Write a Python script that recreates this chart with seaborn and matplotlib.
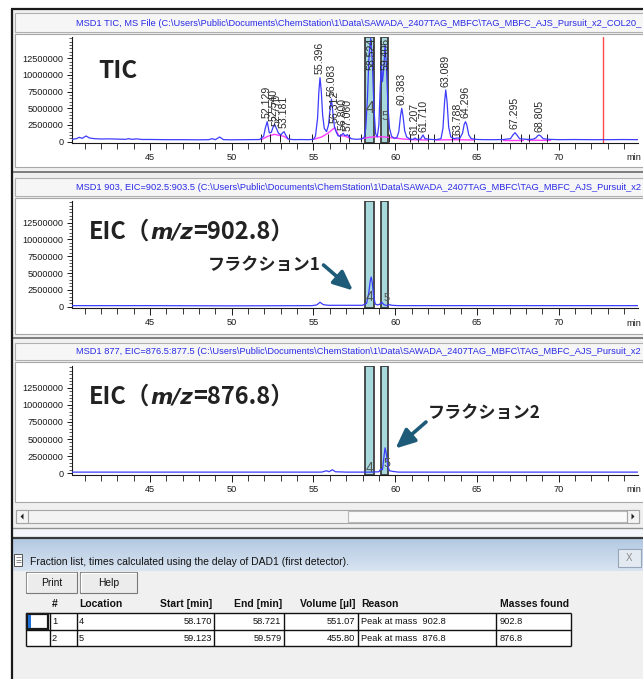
import numpy as np
import pandas as pd
import matplotlib
matplotlib.use("Agg")
import matplotlib.pyplot as plt
import seaborn as sns
from matplotlib.patches import Rectangle, Polygon
from matplotlib.ticker import MultipleLocator, FuncFormatter, FixedLocator
from matplotlib.colors import LinearSegmentedColormap
import matplotlib.transforms as mtrans

# ---------------- data ----------------
frac_no = [1, 2]
frac_location = [4, 5]
frac_start = [58.170, 59.123]
frac_end = [58.721, 59.579]
frac_volume = [551.07, 455.80]
frac_reason = ["Peak at mass  902.8", "Peak at mass  876.8"]
frac_masses = [902.8, 876.8]

table_headers = ["#", "Location", "Start [min]", "End [min]", "Volume [µl]", "Reason", "Masses found"]

x_major_ticks = [45, 50, 55, 60, 65, 70]
y_major_ticks = [0, 2500000, 5000000, 7500000, 10000000, 12500000]

panel_titles = [
    "MSD1 TIC, MS File (C:\\Users\\Public\\Documents\\ChemStation\\1\\Data\\SAWADA_2407TAG_MBFC\\TAG_MBFC_AJS_Pursuit_x2_COL20_",
    "MSD1 903, EIC=902.5:903.5 (C:\\Users\\Public\\Documents\\ChemStation\\1\\Data\\SAWADA_2407TAG_MBFC\\TAG_MBFC_AJS_Pursuit_x2",
    "MSD1 877, EIC=876.5:877.5 (C:\\Users\\Public\\Documents\\ChemStation\\1\\Data\\SAWADA_2407TAG_MBFC\\TAG_MBFC_AJS_Pursuit_x2",
]

# TIC trace (minutes, intensity in millions of counts)
tic_time = [40.23, 40.5, 40.67, 40.85, 41.09, 41.3, 41.6, 42.0, 42.5, 43.0, 43.5, 43.7, 43.9, 44.2, 44.5, 45.0, 46.0, 47.0, 48.0, 48.6, 48.8, 49.0, 49.26, 49.5, 50.0, 51.0, 51.7,
            51.95, 52.05, 52.17, 52.3, 52.42, 52.55, 52.62, 52.75, 52.85, 53.0, 53.1, 53.2, 53.3, 53.45, 53.8, 54.2, 54.7,
            55.0, 55.12, 55.25, 55.33, 55.40, 55.48, 55.56, 55.66, 55.8, 55.92, 56.02, 56.10, 56.18, 56.28, 56.38, 56.5, 56.62, 56.75, 56.82, 56.92, 57.0, 57.08, 57.18, 57.3, 57.6, 57.9,
            58.1, 58.2, 58.3, 58.4, 58.5, 58.6, 58.7, 58.8, 58.9, 59.0, 59.08, 59.15, 59.22, 59.3, 59.38, 59.46, 59.55, 59.65, 59.78, 59.95,
            60.1, 60.22, 60.32, 60.40, 60.48, 60.58, 60.7, 60.9, 61.1, 61.21, 61.32, 61.55, 61.7, 61.82, 62.1, 62.5,
            62.8, 62.92, 63.02, 63.09, 63.17, 63.27, 63.4, 63.6, 63.79, 63.95, 64.12, 64.22, 64.3, 64.38, 64.5, 64.65, 65.0,
            65.5, 66.0, 66.6, 67.05, 67.2, 67.33, 67.46, 67.6, 68.0, 68.4, 68.6, 68.72, 68.8, 68.9, 69.05, 69.4, 70.0, 71.0, 72.0, 73.0, 74.0, 74.85]
tic_signal_M = [0.35, 0.45, 0.65, 0.5, 0.85, 0.55, 0.45, 0.4, 0.42, 0.38, 0.35, 0.45, 0.35, 0.42, 0.33, 0.33, 0.3, 0.3, 0.28, 0.3, 0.45, 0.3, 0.7, 0.3, 0.28, 0.3, 0.32,
                0.8, 2.0, 3.0, 1.3, 1.4, 2.3, 2.6, 1.9, 1.3, 1.0, 1.3, 1.5, 1.0, 0.4, 0.3, 0.32, 0.3,
                0.35, 0.8, 3.5, 7.5, 9.6, 7.5, 4.0, 2.0, 1.5, 2.5, 5.0, 6.4, 4.5, 2.3, 1.5, 0.9, 0.8, 1.1, 1.25, 0.9, 0.95, 1.05, 0.7, 0.45, 0.35, 0.4,
                0.6, 2.0, 6.5, 13.0, 15.5, 12.0, 5.0, 1.2, 0.7, 2.5, 8.0, 11.5, 9.0, 11.0, 14.5, 11.5, 5.5, 2.0, 0.8, 0.5,
                0.6, 1.5, 3.8, 5.0, 3.8, 1.6, 0.7, 0.4, 0.35, 0.55, 0.35, 0.4, 1.0, 0.45, 0.35, 0.3,
                0.45, 2.0, 6.0, 7.75, 6.0, 2.2, 0.7, 0.45, 0.55, 0.5, 1.3, 2.6, 3.0, 2.5, 1.0, 0.45, 0.33,
                0.3, 0.3, 0.32, 0.45, 1.0, 1.35, 0.95, 0.45, 0.35, 0.35, 0.55, 0.9, 1.0, 0.85, 0.45, 0.35, 0.3, 0.32, 0.3, 0.3, 0.32, 0.3]

# TIC integration baselines (magenta), segment ids
tic_base_seg = [1] * 6 + [2] * 7 + [3] * 7 + [4] * 2 + [5] * 3 + [6] * 2 + [7] * 2
tic_base_time = [51.8, 52.2, 52.6, 52.9, 53.2, 53.45,
                 55.0, 55.5, 55.9, 56.3, 56.55, 56.9, 57.3,
                 57.9, 58.4, 58.9, 59.4, 59.9, 60.5, 61.0,
                 61.0, 62.0,
                 62.5, 63.6, 64.8,
                 66.6, 67.8,
                 68.1, 69.5]
tic_base_M = [0.3, 0.8, 1.1, 0.95, 0.8, 0.4,
              0.35, 0.7, 1.3, 2.1, 0.9, 0.85, 0.45,
              0.4, 0.65, 0.75, 0.7, 0.55, 0.4, 0.3,
              0.3, 0.25,
              0.25, 0.3, 0.25,
              0.22, 0.22,
              0.22, 0.2]

# integration event marks
tic_event_times = [51.8, 52.35, 52.95, 53.5, 54.9, 55.9, 56.6, 57.2, 57.9, 59.6, 60.9, 61.4, 62.0, 62.4,
                   63.5, 63.9, 64.8, 66.5, 67.7, 68.2, 69.3]

# TIC peak labels (retention times) and apex heights (millions)
tic_peak_labels = ["52.129", "52.540", "52.770", "53.181", "55.396", "56.083", "56.312", "56.800", "57.060",
                   "58.524", "59.406", "60.383", "61.207", "61.710", "63.089", "63.788", "64.296", "67.295", "68.805"]
tic_peak_heights_M = [3.0, 2.6, 1.9, 1.5, 9.6, 6.4, 2.3, 1.25, 1.05,
                      15.5, 14.5, 5.0, 0.55, 1.0, 7.75, 0.55, 3.0, 1.35, 1.0]

tic_marker_time = 72.68

# EIC m/z 902.8
eic1_time = [40.23, 45.0, 50.0, 54.9, 55.2, 55.4, 55.6, 55.9, 57.0, 58.0, 58.25, 58.38, 58.47, 58.53, 58.6, 58.68,
             58.78, 58.9, 59.05, 59.18, 59.3, 59.5, 59.65, 59.8, 60.2, 65.0, 70.0, 74.85]
eic1_signal_M = [0.15, 0.15, 0.12, 0.15, 0.25, 0.65, 0.3, 0.2, 0.2, 0.2, 0.5, 2.0, 3.8, 4.4, 3.5, 1.5,
                 0.4, 0.25, 0.35, 0.65, 0.3, 0.15, 0.3, 0.2, 0.15, 0.15, 0.15, 0.15]

# EIC m/z 876.8
eic2_time = [40.23, 50.0, 55.5, 55.8, 55.95, 56.15, 56.35, 57.0, 58.5, 59.0, 59.12, 59.22, 59.3, 59.38, 59.46,
             59.55, 59.65, 59.85, 60.2, 65.0, 74.85]
eic2_signal_M = [0.15, 0.15, 0.15, 0.35, 0.2, 0.5, 0.2, 0.15, 0.15, 0.2, 0.6, 0.5, 2.2, 3.7, 2.8,
                 1.0, 0.35, 0.25, 0.15, 0.15, 0.15]

# ---------------- style ----------------
sns.set_style("ticks")
plt.rcParams["font.family"] = ["Liberation Sans", "DejaVu Sans"]

W, H = 643, 679
fig = plt.figure(figsize=(W / 100, H / 100), dpi=100)
fig.patch.set_facecolor("white")
bg = fig.add_axes([0, 0, 1, 1])
bg.set_xlim(0, W)
bg.set_ylim(H, 0)
bg.axis("off")
renderer = fig.canvas.get_renderer()

GRAY = "#f0f0f0"
BLUE = "#3c3cff"
TEAL = "#a6d8dc"
ARROW = "#1e5b78"
INK = "#1a1a1a"


def rect(ax, x0, y0, x1, y1, fc, ec="none", lw=0.8, z=1):
    ax.add_patch(Rectangle((x0, y0), x1 - x0, y1 - y0, facecolor=fc, edgecolor=ec, linewidth=lw, zorder=z))


def hline(ax, y, x0, x1, c, lw=1.0, z=2):
    ax.plot([x0, x1], [y, y], color=c, lw=lw, zorder=z, solid_capstyle="butt")


def vline(ax, x, y0, y1, c, lw=1.0, z=2):
    ax.plot([x, x], [y0, y1], color=c, lw=lw, zorder=z, solid_capstyle="butt")


def fit_text(ax, x0, x1, y, s, size0, **kw):
    t = ax.text(x0, y, s, fontsize=size0, ha="left", va="center", **kw)
    w = t.get_window_extent(renderer=renderer).width
    t.set_fontsize(size0 * (x1 - x0) / w)
    return t


# window background
rect(bg, 12, 9, W + 2, H + 2, GRAY, z=0)
hline(bg, 9, 11, W, "#1a1a1a", 1.6, z=5)
vline(bg, 12, 9, H, "#1a1a1a", 1.6, z=5)

panels = [
    dict(strip=(13, 32), white=(34, 167), axes=(37, 143)),
    dict(strip=(178, 196), white=(198, 334), axes=(201, 308)),
    dict(strip=(343, 360), white=(362, 502), axes=(366, 474.5)),
]
for y in (171.5, 337.5):
    hline(bg, y, 12, W, "#6a6a6a", 1.2, z=3)

axes = []
for p, title in zip(panels, panel_titles):
    s0, s1 = p["strip"]
    w0, w1 = p["white"]
    rect(bg, 15, s0, W + 5, s1, "#f6f6f6", "#b0b0b0", 0.8, z=1)
    rect(bg, 15, w0, W + 5, w1, "white", "#a8a8a8", 0.8, z=1)
    fit_text(bg, 76, 640, (s0 + s1) / 2 + 0.5, title, 7, color="#2a2ae6", zorder=3)
    a0, a1 = p["axes"]
    ax = fig.add_axes([72 / W, 1 - a1 / H, (638 - 72) / W, (a1 - a0) / H])
    ax.set_facecolor("none")
    axes.append(ax)
    bg.text(626, a1 + 15, "min", fontsize=6.6, ha="left", va="center", color=INK, zorder=3)

ax1, ax2, ax3 = axes

df_tic = pd.DataFrame({"time": tic_time, "signal": np.array(tic_signal_M) * 1e6})
df_base = pd.DataFrame({"time": tic_base_time, "signal": np.array(tic_base_M) * 1e6, "seg": tic_base_seg})
df_e1 = pd.DataFrame({"time": eic1_time, "signal": np.array(eic1_signal_M) * 1e6})
df_e2 = pd.DataFrame({"time": eic2_time, "signal": np.array(eic2_signal_M) * 1e6})

YMIN, YMAX = -0.2e6, 15.7e6

for ax in axes:
    for s, e in zip(frac_start, frac_end):
        ax.axvspan(s, e, facecolor=TEAL, edgecolor="#3e3e3e", linewidth=1.3, zorder=1)

sns.lineplot(data=df_base, x="time", y="signal", units="seg", estimator=None, sort=False,
             color="#ff3cff", linewidth=1.0, ax=ax1, legend=False, zorder=2)
ax1.vlines(tic_event_times, -0.1e6, 1.1e6, color=INK, linewidth=0.7, zorder=2)
sns.lineplot(data=df_tic, x="time", y="signal", estimator=None, sort=False,
             color=BLUE, linewidth=0.9, ax=ax1, legend=False, zorder=3)
ax1.axvline(tic_marker_time, color="#ff4848", linewidth=1.0, zorder=2)

sns.lineplot(data=df_e1, x="time", y="signal", estimator=None, sort=False,
             color=BLUE, linewidth=0.9, ax=ax2, legend=False, zorder=3)
sns.lineplot(data=df_e2, x="time", y="signal", estimator=None, sort=False,
             color=BLUE, linewidth=0.9, ax=ax3, legend=False, zorder=3)

for ax in axes:
    ax.set_xlim(40.23, 74.85)
    ax.set_ylim(YMIN, YMAX)
    ax.set_xlabel("")
    ax.set_ylabel("")
    for s in ("top", "right"):
        ax.spines[s].set_visible(False)
    for s in ("left", "bottom"):
        ax.spines[s].set_color(INK)
        ax.spines[s].set_linewidth(0.8)
    ax.xaxis.set_major_locator(FixedLocator(x_major_ticks))
    ax.xaxis.set_minor_locator(MultipleLocator(1))
    ax.yaxis.set_major_locator(FixedLocator(y_major_ticks))
    ax.yaxis.set_minor_locator(MultipleLocator(500000))
    ax.yaxis.set_major_formatter(FuncFormatter(lambda v, p: f"{int(round(v))}"))
    ax.tick_params(axis="x", which="major", direction="out", length=5, width=0.7, pad=2.5,
                   labelsize=6.6, colors=INK)
    ax.tick_params(axis="x", which="minor", direction="out", length=4.5, width=0.6, colors=INK)
    ax.tick_params(axis="y", which="major", direction="out", length=3.5, width=0.7, pad=2.5,
                   labelsize=6.6, colors=INK)
    ax.tick_params(axis="y", which="minor", direction="out", length=2, width=0.5, colors=INK)

# TIC peak labels
for lab, h in zip(tic_peak_labels, tic_peak_heights_M):
    rt = float(lab)
    hv = h * 1e6
    if hv + 5.6e6 > YMAX:
        ax1.text(rt, YMAX - 0.1e6, lab, rotation=90, ha="center", va="top", fontsize=7.6,
                 color="#2a2a2a", zorder=4)
    else:
        ax1.annotate(lab, (rt, hv), xytext=(0, 2.5), textcoords="offset points", rotation=90,
                     ha="center", va="bottom", fontsize=7.6, color="#2a2a2a", zorder=4)

# fraction location numbers inside bands
band_label_pos = {0: [(0.33, 12), (0.25, 9)], 1: [(0.10, 10), (0.09, 8)], 2: [(0.06, 10), (0.10, 9)]}
for i, ax in enumerate(axes):
    tr = mtrans.blended_transform_factory(ax.transData, ax.transAxes)
    for j, (s, e, loc) in enumerate(zip(frac_start, frac_end, frac_location)):
        yy, fs = band_label_pos[i][j]
        ax.text((s + e) / 2 + (0.12 if j == 1 and i > 0 else 0), yy, str(loc), transform=tr,
                ha="center", va="center", fontsize=fs, color="#555555", zorder=4)

# ---------------- foreground overlay ----------------
fg = fig.add_axes([0, 0, 1, 1])
fg.set_facecolor("none")
fg.set_xlim(0, W)
fg.set_ylim(H, 0)
fg.axis("off")

CJK = ["Noto Sans CJK JP", "DejaVu Sans"]


def runs(ax, x, y, parts):
    for s, kw in parts:
        t = ax.text(x, y, s, ha="left", va="baseline", color="#222222", zorder=6, **kw)
        x += t.get_window_extent(renderer=renderer).width


fg.text(98, 77.5, "TIC", family=CJK, fontweight="bold", fontsize=17.5, ha="left", va="baseline",
        color="#222222", zorder=6)
for base_y, mz in ((238.5, "902.8"), (403.5, "876.8")):
    runs(fg, 89, base_y, [
        ("EIC（", dict(family=CJK, fontweight="bold", fontsize=17)),
        ("m/z", dict(family=["DejaVu Sans"], fontweight="bold", style="oblique", fontsize=15.5)),
        ("=" + mz + "）", dict(family=CJK, fontweight="bold", fontsize=17)),
    ])

fg.text(208, 265, "フラクション1", family=CJK, fontweight="bold", fontsize=12.3, ha="left",
        va="center", color="#222222", zorder=6)
fg.text(428, 412.5, "フラクション2", family=CJK, fontweight="bold", fontsize=12.3, ha="left",
        va="center", color="#222222", zorder=6)
arrow_kw = dict(arrowstyle="-|>,head_length=0.9,head_width=0.4", color=ARROW, lw=2.6,
                mutation_scale=13, shrinkA=0, shrinkB=0)
fg.annotate("", xy=(353, 290.5), xytext=(323.5, 265), arrowprops=arrow_kw, zorder=6)
fg.annotate("", xy=(395.5, 448.5), xytext=(426, 422), arrowprops=arrow_kw, zorder=6)

# ---------------- scroll bar ----------------
rect(bg, 16, 510, 639, 523, "#f3f3f3", "#a4a4a4", 0.8, z=2)
rect(bg, 348, 511, 627, 522, "#fafafa", "#b8b8b8", 0.8, z=3)
rect(bg, 16, 510, 28, 523, "#f3f3f3", "#a4a4a4", 0.8, z=3)
rect(bg, 627, 510, 639, 523, "#f3f3f3", "#a4a4a4", 0.8, z=3)
bg.add_patch(Polygon([[20.5, 516.5], [23.5, 513.5], [23.5, 519.5]], closed=True, fc="#202020", ec="none", zorder=4))
bg.add_patch(Polygon([[634.5, 516.5], [631.5, 513.5], [631.5, 519.5]], closed=True, fc="#202020", ec="none", zorder=4))

# ---------------- fraction list dialog ----------------
hline(bg, 527.5, 12, W, "#909090", 1.0, z=3)
rect(bg, 13, 528, W + 2, 537, "#f3f6fa", z=2)
hline(bg, 538, 12, W, "#3a3a3a", 1.6, z=4)
grad = np.linspace(0, 1, 40).reshape(-1, 1)
cmap_tb = LinearSegmentedColormap.from_list("tb", ["#b3c9e2", "#d9e4f1"])
bg.imshow(grad, extent=(13, W + 2, 571, 539), cmap=cmap_tb, aspect="auto", zorder=2, interpolation="bilinear")
bg.set_xlim(0, W)
bg.set_ylim(H, 0)

# document icon
rect(bg, 14, 554, 22, 566, "white", "#555555", 0.7, z=4)
for yy in (557, 559.5, 562):
    hline(bg, yy, 15.5, 20.5, "#777777", 0.6, z=5)
fit_text(bg, 30, 352, 562, "Fraction list, times calculated using the delay of DAD1 (first detector).", 8,
         color="#111111", zorder=4)
# close button
rect(bg, 618, 549, 641, 567, "#e4eaf1", "#97a6b8", 0.8, z=4)
bg.text(629.5, 558, "X", fontsize=7, ha="center", va="center", color="#8a8a8a", zorder=5)

# buttons
for (x0, x1, lab) in ((26, 77, "Print"), (80, 137, "Help")):
    rect(bg, x0, 572, x1, 593, "#ececec", "#7a7a7a", 0.8, z=4)
    hline(bg, 573, x0 + 1, x1 - 1, "white", 1.0, z=5)
    vline(bg, x0 + 1, 573, 592, "white", 1.0, z=5)
    bg.text((x0 + x1) / 2, 582.5, lab, fontsize=7.4, ha="center", va="center", color="#111111", zorder=5)

# table
col_px = [26, 49.5, 77, 214, 284, 358, 496, 571]
row_px = [613, 629.5, 646]
rect(bg, col_px[0], row_px[0], col_px[-1], row_px[-1], "white", z=3)
for y in row_px:
    hline(bg, y, col_px[0], col_px[-1], "#111111", 1.0, z=4)
for x in col_px:
    vline(bg, x, row_px[0], row_px[-1], "#111111", 1.0, z=4)
rect(bg, 26.8, 613.8, 48, 628.8, "none", "#1a1a1a", 1.6, z=7)
rect(bg, 28.3, 615.3, 31.0, 627.5, "#1c6fd4", z=8)

hdr_kw = dict(fontsize=7.5, fontweight="bold", color="#111111", va="center", zorder=5)
hdr_y = 604
bg.text(55, hdr_y, table_headers[0], ha="center", **hdr_kw)
bg.text(79, hdr_y, table_headers[1], ha="left", **hdr_kw)
bg.text(212.5, hdr_y, table_headers[2], ha="right", **hdr_kw)
bg.text(282.5, hdr_y, table_headers[3], ha="right", **hdr_kw)
bg.text(356, hdr_y, table_headers[4], ha="right", **hdr_kw)
bg.text(361, hdr_y, table_headers[5], ha="left", **hdr_kw)
bg.text(500, hdr_y, table_headers[6], ha="left", **hdr_kw)

cell_kw = dict(fontsize=6.7, color="#111111", va="center", zorder=6)
for i in range(len(frac_no)):
    y = (row_px[i] + row_px[i + 1]) / 2 + 0.3
    bg.text(52, y, str(frac_no[i]), ha="left", **cell_kw)
    bg.text(79, y, str(frac_location[i]), ha="left", **cell_kw)
    bg.text(212, y, f"{frac_start[i]:.3f}", ha="right", **cell_kw)
    bg.text(281.5, y, f"{frac_end[i]:.3f}", ha="right", **cell_kw)
    bg.text(355.5, y, f"{frac_volume[i]:.2f}", ha="right", **cell_kw)
    bg.text(361, y, frac_reason[i], ha="left", **cell_kw)
    bg.text(500, y, f"{frac_masses[i]:.1f}", ha="left", **cell_kw)

fig.savefig("out.png", dpi=100, facecolor="white")
